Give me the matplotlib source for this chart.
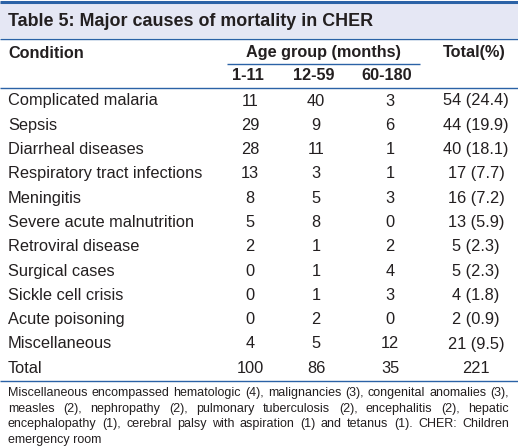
import matplotlib
matplotlib.use('Agg')
import matplotlib.pyplot as plt

plt.rcParams['font.family'] = ['Liberation Sans', 'DejaVu Sans']

title = 'Table 5: Major causes of mortality in CHER'
conditions = ['Complicated malaria', 'Sepsis', 'Diarrheal diseases',
              'Respiratory tract infections', 'Meningitis',
              'Severe acute malnutrition', 'Retroviral disease',
              'Surgical cases', 'Sickle cell crisis', 'Acute poisoning',
              'Miscellaneous']
age_1_11 = [11, 29, 28, 13, 8, 5, 2, 0, 0, 0, 4]
age_12_59 = [40, 9, 11, 3, 5, 8, 1, 1, 1, 2, 5]
age_60_180 = [3, 6, 1, 1, 3, 0, 2, 4, 3, 0, 12]
totals = [54, 44, 40, 17, 16, 13, 5, 5, 4, 2, 21]
percents = [24.4, 19.9, 18.1, 7.7, 7.2, 5.9, 2.3, 2.3, 1.8, 0.9, 9.5]
grand = [100, 86, 35, 221]
age_labels = ['1-11', '12-59', '60-180']
footnote = [
    'Miscellaneous encompassed hematologic (4), malignancies (3), congenital anomalies (3),',
    'measles (2), nephropathy (2), pulmonary tuberculosis (2), encephalitis (2), hepatic',
    'encephalopathy (1), cerebral palsy with aspiration (1) and tetanus (1). CHER: Children',
    'emergency room',
]

blue = '#2b62a6'
band = '#e5e7f4'
ink = '#231f20'

fig = plt.figure(figsize=(5.18, 4.46), dpi=100)
ax = fig.add_axes([0, 0, 1, 1])
ax.set_xlim(0, 518)
ax.set_ylim(446, 0)
ax.axis('off')

# title band
ax.axhspan(2, 38, color=band, lw=0)
ax.hlines(1.5, 0, 518, color=blue, lw=2.2)
ax.hlines(38.5, 0, 518, color=blue, lw=1)
ax.text(8, 21, title, fontsize=12.9, fontweight='bold', va='center', color=ink)

# header
hfs = 11.7
ax.text(8, 53, 'Condition', fontsize=hfs, fontweight='bold', va='center', color=ink)
ax.text(323, 53, 'Age group (months)', fontsize=hfs, fontweight='bold',
        va='center', ha='center', color=ink)
ax.text(474, 53, 'Total(%)', fontsize=hfs, fontweight='bold', va='center',
        ha='center', color=ink)
ax.hlines(64, 227, 420, color=blue, lw=1)
col_x = [250, 316, 390]
head_x = [248, 314, 387]
for x, lab in zip(head_x, age_labels):
    ax.text(x, 76, lab, fontsize=hfs, fontweight='bold', va='center',
            ha='center', color=ink)
ax.hlines(88, 0, 518, color=blue, lw=1)

# body
bfs = 11.8
row_h = 24.3
for i, name in enumerate(conditions):
    y = 101 + i * row_h
    ax.text(8, y, name, fontsize=bfs, va='center', color=ink)
    for x, v in zip(col_x, [age_1_11[i], age_12_59[i], age_60_180[i]]):
        ax.text(x, y, str(v), fontsize=bfs, va='center', ha='center', color=ink)
    ax.text(476, y, f'{totals[i]} ({percents[i]})', fontsize=bfs,
            va='center', ha='center', color=ink)
y = 101 + len(conditions) * row_h
ax.text(8, y, 'Total', fontsize=bfs, va='center', color=ink)
for x, v in zip(col_x + [476], grand):
    ax.text(x, y, str(v), fontsize=bfs, va='center', ha='center', color=ink)
ax.hlines(381, 0, 518, color=blue, lw=1)

# footnote, justified
ffs = 9.0
renderer = fig.canvas.get_renderer()
left, right = 8, 509
for j, line in enumerate(footnote):
    fy = 393 + j * 15.6
    if j == len(footnote) - 1:
        ax.text(left, fy, line, fontsize=ffs, va='center', color=ink)
        continue
    words = line.split(' ')
    arts = [ax.text(0, fy, w, fontsize=ffs, va='center', color=ink) for w in words]
    widths = [a.get_window_extent(renderer).width for a in arts]
    gap = (right - left - sum(widths)) / (len(words) - 1)
    x = left
    for a, w in zip(arts, widths):
        a.set_x(x)
        x += w + gap

fig.savefig('out.png', dpi=100)
